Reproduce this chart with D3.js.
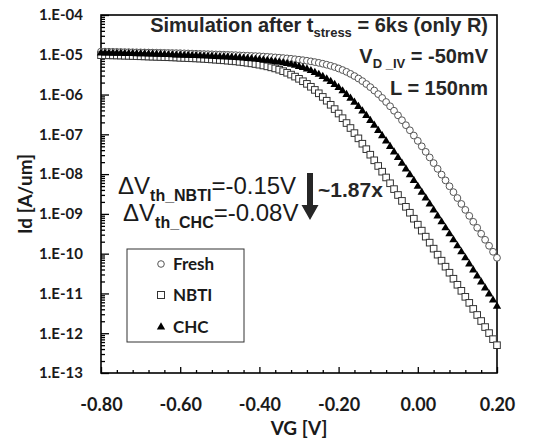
<!DOCTYPE html>
<meta charset="utf-8">
<head>
	<title>Id-VG after stress</title>
</head>

<style>
body { margin: 0; background: #fff; }
svg { background: #fff; display: block; }
.tick text { font-family: Lato, "Open Sans", sans-serif; font-weight: bold; fill: #1a1a1a; }
.axis path.domain { display: none; }
.axis line { stroke: #000; stroke-width: 1.3; }
.note { font-family: "Liberation Sans", Arial, sans-serif; fill: #262626; }
</style>

<body>
<svg id="chart" width="545" height="438"></svg>

<script src="https://cdnjs.cloudflare.com/ajax/libs/d3/7.8.5/d3.min.js"></script>
<script>

// gate voltage sweep [V]
var vg = [
	-0.80, -0.79, -0.78, -0.77, -0.76, -0.75, -0.74, -0.73, -0.72, -0.71,
	-0.70, -0.69, -0.68, -0.67, -0.66, -0.65, -0.64, -0.63, -0.62, -0.61,
	-0.60, -0.59, -0.58, -0.57, -0.56, -0.55, -0.54, -0.53, -0.52, -0.51,
	-0.50, -0.49, -0.48, -0.47, -0.46, -0.45, -0.44, -0.43, -0.42, -0.41,
	-0.40, -0.39, -0.38, -0.37, -0.36, -0.35, -0.34, -0.33, -0.32, -0.31,
	-0.30, -0.29, -0.28, -0.27, -0.26, -0.25, -0.24, -0.23, -0.22, -0.21,
	-0.20, -0.19, -0.18, -0.17, -0.16, -0.15, -0.14, -0.13, -0.12, -0.11,
	-0.10, -0.09, -0.08, -0.07, -0.06, -0.05, -0.04, -0.03, -0.02, -0.01,
	0.00, 0.01, 0.02, 0.03, 0.04, 0.05, 0.06, 0.07, 0.08, 0.09,
	0.10, 0.11, 0.12, 0.13, 0.14, 0.15, 0.16, 0.17, 0.18, 0.19, 0.20
];

// log10(Id [A/um]) for each VG
var freshLogId = [
	-4.920, -4.922, -4.924, -4.926, -4.928, -4.930, -4.932, -4.934, -4.936, -4.938,
	-4.940, -4.942, -4.944, -4.946, -4.948, -4.950, -4.952, -4.954, -4.956, -4.958,
	-4.960, -4.964, -4.967, -4.971, -4.974, -4.978, -4.981, -4.985, -4.988, -4.992,
	-4.995, -4.999, -5.002, -5.006, -5.009, -5.016, -5.020, -5.024, -5.029, -5.033,
	-5.038, -5.045, -5.051, -5.059, -5.066, -5.074, -5.082, -5.091, -5.101, -5.112,
	-5.124, -5.136, -5.150, -5.166, -5.184, -5.203, -5.225, -5.250, -5.277, -5.308,
	-5.344, -5.384, -5.429, -5.480, -5.535, -5.596, -5.662, -5.735, -5.813, -5.898,
	-5.989, -6.085, -6.187, -6.294, -6.407, -6.523, -6.645, -6.770, -6.898, -7.030,
	-7.164, -7.301, -7.440, -7.581, -7.723, -7.867, -8.012, -8.158, -8.305, -8.453,
	-8.601, -8.750, -8.899, -9.049, -9.199, -9.349, -9.500, -9.651, -9.802, -9.953, -10.104
];

var nbtiLogId = [
	-5.010, -5.012, -5.014, -5.016, -5.018, -5.020, -5.024, -5.027, -5.031, -5.034,
	-5.038, -5.041, -5.045, -5.048, -5.052, -5.055, -5.059, -5.062, -5.066, -5.069,
	-5.076, -5.080, -5.084, -5.088, -5.092, -5.097, -5.103, -5.110, -5.117, -5.124,
	-5.131, -5.139, -5.148, -5.157, -5.166, -5.177, -5.189, -5.202, -5.216, -5.232,
	-5.249, -5.269, -5.291, -5.316, -5.343, -5.375, -5.412, -5.452, -5.498, -5.549,
	-5.604, -5.665, -5.731, -5.804, -5.883, -5.968, -6.059, -6.155, -6.257, -6.365,
	-6.477, -6.594, -6.716, -6.841, -6.969, -7.101, -7.236, -7.373, -7.512, -7.653,
	-7.795, -7.939, -8.084, -8.230, -8.377, -8.525, -8.673, -8.822, -8.971, -9.121,
	-9.271, -9.421, -9.572, -9.723, -9.874, -10.025, -10.176, -10.327, -10.479, -10.630,
	-10.782, -10.934, -11.085, -11.237, -11.389, -11.541, -11.693, -11.845, -11.997, -12.149, -12.301
];

var chcLogId = [
	-4.956, -4.958, -4.960, -4.962, -4.964, -4.966, -4.968, -4.970, -4.972, -4.974,
	-4.976, -4.978, -4.980, -4.984, -4.987, -4.991, -4.994, -4.998, -5.001, -5.005,
	-5.008, -5.012, -5.015, -5.019, -5.022, -5.026, -5.029, -5.036, -5.040, -5.044,
	-5.049, -5.053, -5.058, -5.065, -5.071, -5.078, -5.086, -5.094, -5.102, -5.111,
	-5.121, -5.131, -5.143, -5.155, -5.169, -5.185, -5.202, -5.221, -5.243, -5.267,
	-5.295, -5.325, -5.359, -5.400, -5.445, -5.495, -5.549, -5.610, -5.676, -5.747,
	-5.825, -5.909, -5.999, -6.095, -6.196, -6.303, -6.415, -6.531, -6.652, -6.776,
	-6.905, -7.036, -7.170, -7.307, -7.445, -7.586, -7.728, -7.872, -8.017, -8.163,
	-8.310, -8.457, -8.605, -8.754, -8.904, -9.053, -9.203, -9.354, -9.504, -9.655,
	-9.806, -9.957, -10.108, -10.260, -10.411, -10.563, -10.714, -10.866, -11.018, -11.170, -11.322
];

var xTicks = [-0.8, -0.6, -0.4, -0.2, 0.0, 0.2];
var yTicks = [1e-4, 1e-5, 1e-6, 1e-7, 1e-8, 1e-9, 1e-10, 1e-11, 1e-12, 1e-13];
var seriesNames = ['Fresh', 'NBTI', 'CHC'];

var svg = d3.select('#chart');

var plotL = 101, plotR = 497, plotT = 15, plotB = 373;

var x = d3.scaleLinear().domain([-0.8, 0.2]).range([plotL, plotR]);
var y = d3.scaleLog().domain([1e-13, 1e-4]).range([plotB, plotT]);

// minor ticks
var xMinor = [];
for (var i = 0; i <= 25; i++) {
	if (i % 5 != 0) xMinor.push(-0.8 + i * 0.04);
}
var yMinor = [];
for (var e = -13; e < -4; e++) {
	for (var m = 2; m <= 9; m++) yMinor.push(m * Math.pow(10, e));
}

svg.append('g')
	.attr('class', 'axis')
	.attr('transform', 'translate(0,' + plotB + ')')
	.call(d3.axisBottom(x).tickValues(xMinor).tickSize(-3).tickFormat(''));

svg.append('g')
	.attr('class', 'axis')
	.attr('transform', 'translate(0,' + plotB + ')')
	.call(d3.axisBottom(x).tickValues(xTicks).tickSizeInner(-6).tickSizeOuter(0).tickPadding(25)
		.tickFormat(function(d) { return d.toFixed(2); }))
	.selectAll('text').style('font-size', '18px');

svg.append('g')
	.attr('class', 'axis')
	.attr('transform', 'translate(' + plotL + ',0)')
	.call(d3.axisLeft(y).tickValues(yMinor).tickSize(-4).tickFormat(''));

svg.append('g')
	.attr('class', 'axis')
	.attr('transform', 'translate(' + plotL + ',0)')
	.call(d3.axisLeft(y).tickValues(yTicks).tickSizeInner(-8).tickSizeOuter(0).tickPadding(18)
		.tickFormat(function(d) {
			var p = Math.round(-Math.log10(d));
			return '1.E-' + (p < 10 ? '0' + p : p);
		}))
	.selectAll('text').style('font-size', '15px');

// plot frame
svg.append('rect')
	.attr('x', plotL).attr('y', plotT)
	.attr('width', plotR - plotL).attr('height', plotB - plotT)
	.attr('fill', 'none').attr('stroke', '#000').attr('stroke-width', 1.6);

// axis titles
svg.append('text')
	.attr('x', (plotL + plotR) / 2).attr('y', 435)
	.attr('text-anchor', 'middle')
	.style('font-family', 'Lato, sans-serif').style('font-weight', 'bold').style('font-size', '19px')
	.style('fill', '#1a1a1a')
	.text('VG [V]');

svg.append('text')
	.attr('transform', 'translate(32,' + (plotT + plotB) / 2 + ') rotate(-90)')
	.attr('text-anchor', 'middle')
	.style('font-family', 'Lato, sans-serif').style('font-weight', 'bold').style('font-size', '19px')
	.style('fill', '#1a1a1a')
	.text('Id [A/um]');

// data points
function points(logs) {
	return vg.map(function(v, i) { return {vg: v, id: Math.pow(10, logs[i])}; });
}

svg.append('g').selectAll('circle')
	.data(points(freshLogId))
	.enter().append('circle')
	.attr('cx', function(d) { return x(d.vg); })
	.attr('cy', function(d) { return y(d.id); })
	.attr('r', 3.4)
	.attr('fill', '#fff').attr('stroke', '#555').attr('stroke-width', 1);

svg.append('g').selectAll('rect')
	.data(points(nbtiLogId))
	.enter().append('rect')
	.attr('x', function(d) { return x(d.vg) - 3.3; })
	.attr('y', function(d) { return y(d.id) - 3.3; })
	.attr('width', 6.6).attr('height', 6.6)
	.attr('fill', '#fff').attr('stroke', '#333').attr('stroke-width', 1);

var tri = d3.symbol().type(d3.symbolTriangle).size(30);
svg.append('g').selectAll('path')
	.data(points(chcLogId))
	.enter().append('path')
	.attr('d', tri)
	.attr('transform', function(d) { return 'translate(' + x(d.vg) + ',' + y(d.id) + ')'; })
	.attr('fill', '#000');

// legend
var legend = svg.append('g');
legend.append('rect')
	.attr('x', 127).attr('y', 249).attr('width', 117).attr('height', 93)
	.attr('fill', '#fff').attr('stroke', '#333').attr('stroke-width', 1);

var legY = [264, 295, 327];
legend.append('circle').attr('cx', 161).attr('cy', legY[0]).attr('r', 3.3)
	.attr('fill', '#fff').attr('stroke', '#555');
legend.append('rect').attr('x', 157.5).attr('y', legY[1] - 3.5).attr('width', 7).attr('height', 7)
	.attr('fill', '#fff').attr('stroke', '#333');
legend.append('path').attr('d', tri).attr('transform', 'translate(161,' + legY[2] + ')').attr('fill', '#000');

legend.selectAll('text.leg')
	.data(seriesNames)
	.enter().append('text')
	.attr('class', 'leg')
	.attr('x', 173)
	.attr('y', function(d, i) { return legY[i] + 6; })
	.style('font-family', 'Lato, sans-serif').style('font-weight', 'bold').style('font-size', '17px')
	.style('fill', '#1a1a1a')
	.text(function(d) { return d; });

// annotations top right
var t1 = svg.append('text').attr('class', 'note')
	.attr('x', 488).attr('y', 32).attr('text-anchor', 'end')
	.style('font-weight', 'bold').style('font-size', '20px');
t1.append('tspan').text('Simulation after t');
t1.append('tspan').attr('dy', 5).style('font-size', '13px').text('stress');
t1.append('tspan').attr('dy', -5).text(' = 6ks (only R)');

var t2 = svg.append('text').attr('class', 'note')
	.attr('x', 488).attr('y', 63).attr('text-anchor', 'end')
	.style('font-weight', 'bold').style('font-size', '20px');
t2.append('tspan').text('V');
t2.append('tspan').attr('dy', 5).style('font-size', '13px').text('D _IV');
t2.append('tspan').attr('dy', -5).text(' = -50mV');

svg.append('text').attr('class', 'note')
	.attr('x', 488).attr('y', 95).attr('text-anchor', 'end')
	.style('font-weight', 'bold').style('font-size', '20px')
	.text('L = 150nm');

// delta Vth annotation
function dvth(xp, yp, sub, val) {
	var t = svg.append('text').attr('class', 'note')
		.attr('x', xp).attr('y', yp)
		.style('font-size', '24px').style('fill', '#1a1a1a');
	t.append('tspan').text('\u0394V');
	t.append('tspan').attr('dy', 7).style('font-size', '16px').style('font-weight', 'bold').text(sub);
	t.append('tspan').attr('dy', -7).text(val);
}
dvth(118, 194, 'th_NBTI', '=-0.15V');
dvth(123, 221, 'th_CHC', '=-0.08V');

// arrow
svg.append('path')
	.attr('d', 'M307,173 L313,173 L313,205 L318.5,205 L310,220 L301.5,205 L307,205 Z')
	.attr('fill', '#262626');

svg.append('text').attr('class', 'note')
	.attr('x', 318).attr('y', 197)
	.style('font-weight', 'bold').style('font-size', '21px')
	.text('~1.87x');

</script>

</body>
</html>
